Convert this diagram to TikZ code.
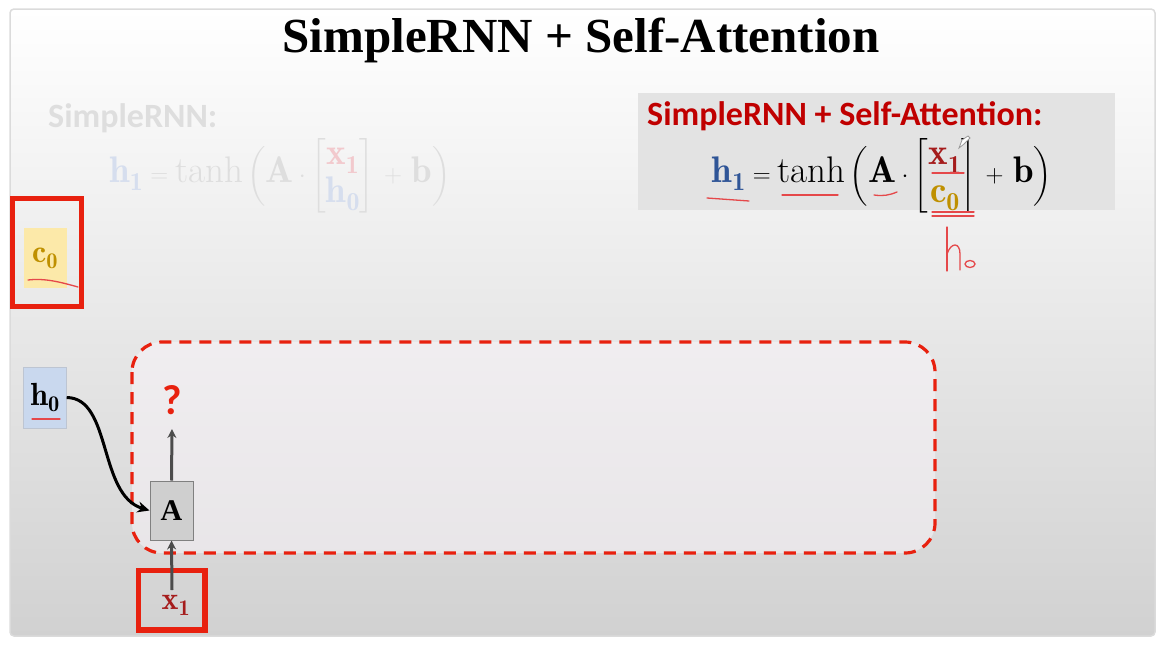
\documentclass[tikz,border=0pt]{standalone}
\usepackage{amsmath}
\usepackage{fontspec}
\newfontfamily\titlefont{Liberation Serif}
\newfontfamily\slidesans{Carlito}
\usetikzlibrary{arrows.meta}
\definecolor{slidered}{HTML}{E8210F}
\definecolor{darkred}{HTML}{C00000}
\definecolor{inkred}{HTML}{E5484A}
\definecolor{xred}{HTML}{A51C1C}
\definecolor{eqblue}{HTML}{2F5597}
\definecolor{gold}{HTML}{BF9000}
\definecolor{fadegray}{HTML}{DEDEDE}
\definecolor{fadeblue}{HTML}{D6DEEE}
\definecolor{fadepink}{HTML}{F2C9CD}
\definecolor{cellyellow}{HTML}{FCE9A9}
\definecolor{cellblue}{HTML}{C9D8EE}
\newcommand{\stackvec}[2]{{\renewcommand{\arraystretch}{0.93}\begin{bmatrix}#1\\ #2\end{bmatrix}}}
\begin{document}
\begin{tikzpicture}[x=1pt,y=-1pt,
    redbox/.style={draw=slidered,line width=5.5pt},
    cell/.style={inner sep=0pt,minimum width=43pt,minimum height=59pt},
    eqfont/.style={font=\fontsize{37}{40}\selectfont},
    ink/.style={draw=inkred,line width=1.3pt,line cap=round},
    flow/.style={draw=black!70,line width=3pt,-{Stealth[length=9pt,width=9pt]}}]
  \useasboundingbox (0,0) rectangle (1164,645);
  % slide
  \shade[top color=white,middle color=black!2,bottom color=black!18,rounded corners=4pt]
    (10,9) rectangle (1155,636);
  \draw[black!14,line width=1.5pt,rounded corners=4pt] (10,9) rectangle (1155,636);
  \node (title) at (581,40) {\titlefont\bfseries\fontsize{49}{58}\selectfont SimpleRNN + Self-Attention};
  % faded old formula
  \node[anchor=west,inner sep=0pt] (oldlabel) at (48,118)
    {\slidesans\bfseries\fontsize{34}{38}\selectfont\color{fadegray}SimpleRNN:};
  \node[eqfont,text=fadegray,inner sep=0pt] (oldeq) at (280,176)
    {$\color{fadeblue}\mathbf{h}_{\mathbf{1}}\color{fadegray}=\tanh\bigg(\mathbf{A}\cdot
    \stackvec{\color{fadepink}\mathbf{x}_{\mathbf{1}}}{\color{fadeblue}\mathbf{h}_{\mathbf{0}}}\,+\,\mathbf{b}\bigg)$};
  % new formula
  \node[fill=black!11,minimum width=477pt,minimum height=117pt] (eqbox) at (876.5,151.5) {};
  \node[anchor=west,inner sep=0pt] (newlabel) at (647,116)
    {\slidesans\bfseries\fontsize{34}{38}\selectfont\color{darkred}SimpleRNN + Self-Attention:};
  \node[eqfont,inner sep=0pt] (neweq) at (882,176)
    {$\color{eqblue}\mathbf{h}_{\mathbf{1}}\color{black}=\tanh\bigg(\mathbf{A}\cdot
    \stackvec{\color{xred}\mathbf{x}_{\mathbf{1}}}{\color{gold}\mathbf{c}_{\mathbf{0}}}\,+\,\mathbf{b}\bigg)$};
  % hand annotations
  \draw[ink] (707,198) -- (749,201);
  \draw[ink] (782,195) -- (838,195);
  \draw[ink] (874,195) to[bend right=15] (897,192);
  \draw[ink] (932,173) -- (964,173);
  \draw[ink] (932,212) -- (974,212);
  \draw[ink] (932,216) -- (974,216);
  \draw[ink] (947,227) -- (947,271);
  \draw[ink] (947,254) .. controls (951,242) and (960,242) .. (960,254) -- (960,270);
  \draw[ink] (970,264) ellipse (5pt and 3.5pt);
  \draw[black!40,line width=0.8pt,fill=white] (959,148) -- (962,140) -- (968,136) -- (970,138) -- (964,144) -- cycle;
  % context vector
  \draw[redbox] (12.5,198.5) rectangle (81.5,306.5);
  \node[cell,fill=cellyellow,minimum height=60pt] (c0) at (45,258)
    {\fontsize{32}{36}\selectfont$\color{gold}\mathbf{c}_{\mathbf{0}}$};
  \draw[ink] (28,280) .. controls (45,278) and (60,282) .. (78,287);
  % hidden state and cell
  \node[cell,fill=cellblue,draw=cellblue!80!black!70,minimum height=61pt] (h0) at (45,397.5)
    {\fontsize{32}{36}\selectfont$\mathbf{h}_{\mathbf{0}}$};
  \draw[ink] (32,419) -- (60,419);
  \draw[slidered,line width=3.2pt,dash pattern=on 12pt off 8pt,rounded corners=30pt,fill=violet!4,fill opacity=0.5]
    (132,342) rectangle (935,553);
  \node[cell,fill=black!19,draw=black!50,line width=1pt] (A) at (171.5,510.5)
    {\titlefont\bfseries\fontsize{30}{34}\selectfont A};
  \node[text=slidered] (q) at (172,400) {\slidesans\bfseries\fontsize{42}{46}\selectfont ?};
  \coordinate (out) at (172,429);
  \draw[redbox] (138.5,570.5) rectangle (205,630);
  \node (x1) at (176,605) {\fontsize{32}{36}\selectfont$\color{xred}\mathbf{x}_{\mathbf{1}}$};
  \draw[flow] (A.north) -- (out);
  \draw[flow] (172,590) -- (A.south);
  \draw[black,line width=3pt,-{Stealth[length=12pt,width=11pt]}] (h0.east) .. controls (112,398) and (98,495) .. (A.west);
\end{tikzpicture}
\end{document}
